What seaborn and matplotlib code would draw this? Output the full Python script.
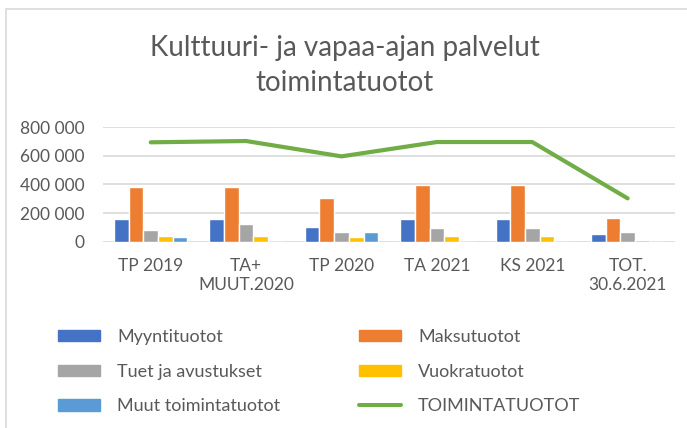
import numpy as np
import pandas as pd
import matplotlib.pyplot as plt
import seaborn as sns
from matplotlib.patches import Patch, Rectangle
from matplotlib.lines import Line2D
from matplotlib.ticker import FuncFormatter

# arvot luettu kuvasta (euroa)
kaudet = ["TP 2019", "TA+\nMUUT.2020", "TP 2020", "TA 2021", "KS 2021", "TOT.\n30.6.2021"]
myyntituotot = [160000, 160000, 106000, 160000, 160000, 58000]
maksutuotot = [379000, 379000, 307000, 395000, 395000, 164000]
tuet = [79000, 122000, 69000, 95000, 95000, 69000]
vuokratuotot = [42000, 42000, 35000, 42000, 42000, 14000]
muut = [35000, 0, 69000, 0, 0, 0]
toimintatuotot = [694000, 703000, 596000, 696000, 696000, 303000]

sarjat = ["Myyntituotot", "Maksutuotot", "Tuet ja avustukset", "Vuokratuotot", "Muut toimintatuotot"]
varit = ["#4472C4", "#ED7D31", "#A5A5A5", "#FFC000", "#5B9BD5"]
vihrea = "#70AD47"
teksti = "#595959"

df = pd.DataFrame({
    "kausi": kaudet * 5,
    "laji": np.repeat(sarjat, len(kaudet)),
    "arvo": myyntituotot + maksutuotot + tuet + vuokratuotot + muut,
})

sns.set_style("white")
plt.rcParams["font.family"] = ["Lato", "DejaVu Sans"]

fig = plt.figure(figsize=(6.87, 4.28), dpi=100)
ax = fig.add_axes([0.150, 0.435, 0.833, 0.268])

sns.barplot(data=df, x="kausi", y="arvo", hue="laji", hue_order=sarjat,
            palette=varit, width=0.77, saturation=1, legend=False, ax=ax)
sns.lineplot(x=np.arange(len(kaudet)), y=toimintatuotot, color=vihrea,
             linewidth=3, solid_capstyle="round", ax=ax)

ax.set_xlim(-0.5, len(kaudet) - 0.5)
ax.set_ylim(0, 800000)
ax.set_yticks(range(0, 800001, 200000))
ax.yaxis.set_major_formatter(FuncFormatter(lambda v, p: f"{int(v):,}".replace(",", " ")))
ax.grid(axis="y", color="#D9D9D9", linewidth=1.2)
ax.set_axisbelow(True)
sns.despine(ax=ax, left=True, bottom=True)
ax.tick_params(axis="both", length=0, labelsize=12.5, labelcolor=teksti)
ax.tick_params(axis="y", pad=13)
ax.tick_params(axis="x", pad=12)
ax.set_xlabel("")
ax.set_ylabel("")

fig.text(0.502, 1 - 48 / 428, "Kulttuuri- ja vapaa-ajan palvelut", ha="center", va="center",
         fontsize=20, color=teksti)
fig.text(0.502, 1 - 83 / 428, "toimintatuotot", ha="center", va="center",
         fontsize=20, color=teksti)

# kehys
fig.patches.append(Rectangle((6 / 687, -0.05), 1.05, 1 - 9 / 428 + 0.05,
                             transform=fig.transFigure, fill=False,
                             edgecolor="#D9D9D9", linewidth=1.2))

# selite kahtena sarakkeena
vasen = [Patch(color=varit[0]), Patch(color=varit[2]), Patch(color=varit[4])]
oikea = [Patch(color=varit[1]), Patch(color=varit[3]),
         Line2D([], [], color=vihrea, linewidth=2.9, solid_capstyle="round")]
for kahvat, nimet, x in [(vasen, [sarjat[0], sarjat[2], sarjat[4]], 58 / 687),
                         (oikea, [sarjat[1], sarjat[3], "TOIMINTATUOTOT"], 359 / 687)]:
    fig.legend(kahvat, nimet, loc="upper left", bbox_to_anchor=(x, 1 - 329 / 428),
               frameon=False, borderpad=0, borderaxespad=0, fontsize=13, labelcolor=teksti,
               handlelength=2.33, handleheight=0.6, handletextpad=0.95, labelspacing=1.03)

fig.savefig("out.png", dpi=100)
